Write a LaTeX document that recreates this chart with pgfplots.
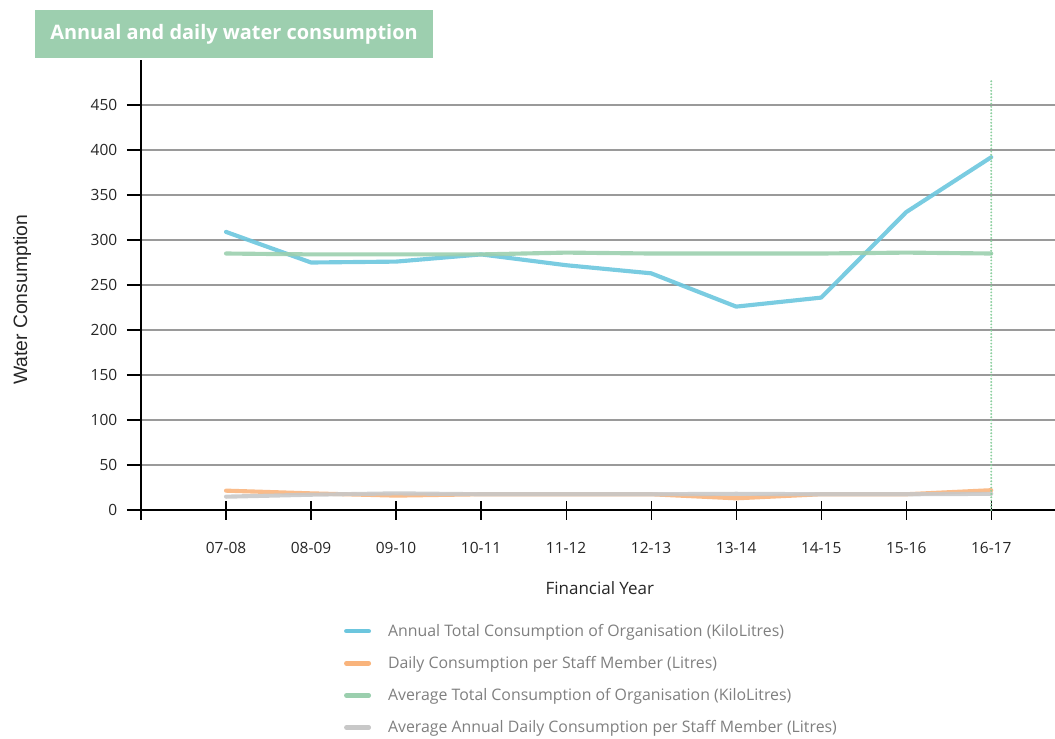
\documentclass[border=0pt]{standalone}
\usepackage{pgfplots}
\pgfplotsset{compat=1.18}
\usepackage{fontspec}
\setmainfont{Open Sans}
\newfontfamily\arialfont{Liberation Sans}
\definecolor{cblue}{HTML}{6CC6DE}
\definecolor{corange}{HTML}{F9B47C}
\definecolor{cgreen}{HTML}{9BCFAE}
\definecolor{cgray}{HTML}{C8C8C8}
\definecolor{titlegreen}{HTML}{9DCFAF}
\definecolor{legtext}{HTML}{7F7F7F}
\definecolor{gridgray}{HTML}{9A9A9A}
\definecolor{dotgreen}{HTML}{8CCF9F}
\begin{document}
\begin{tikzpicture}
\useasboundingbox (0,0) rectangle (791.25pt,-553.5pt);
\fill[titlegreen] (26.25pt,-7.5pt) rectangle (324.75pt,-43.5pt);
\node[text=white, font=\bfseries\fontsize{14.95}{18}\selectfont, anchor=center, inner sep=0pt] at (175.5pt,-26pt) {Annual and daily water consumption};
\begin{axis}[
  at={(105.75pt,-382.5pt)}, anchor=south west,
  scale only axis, width=685.5pt, height=337.5pt,
  xmin=-1, xmax=9.75, ymin=0, ymax=500,
  axis lines=left,
  axis line style={-, black, line width=0.9pt},
  xtick={-1,0,...,9},
  xticklabels={,07-08,08-09,09-10,10-11,11-12,12-13,13-14,14-15,15-16,16-17},
  ytick={0,50,...,450},
  xtick align=center, ytick align=outside,
  xtick style={black, line width=0.9pt, /pgfplots/major tick length=14.25pt},
  ytick style={black, line width=0.9pt, /pgfplots/major tick length=10.5pt},
  ymajorgrids, grid style={gridgray, line width=0.8pt},
  tick label style={font=\fontsize{11.6}{14}\selectfont, text=black!85},
  /pgf/number format/assume math mode=true,
  xticklabel shift=18.5pt,
  yticklabel shift=10pt,
  xlabel={Financial Year},
  every axis x label/.style={at={(axis description cs:0.502,-0.173)}, anchor=center, font=\fontsize{12.75}{15}\selectfont, text=black!85},
  ylabel={Water Consumption},
  every axis y label/.style={at={(axis description cs:-0.130,0.467)}, anchor=center, rotate=90, font=\arialfont\fontsize{14.5}{17}\selectfont, text=black!85},
  legend style={at={(axis description cs:0.2175,-0.241)}, anchor=north west, draw=none, fill=none,
    font=\fontsize{11.9}{14}\selectfont, text=legtext, row sep=9.5pt,
    nodes={inner xsep=0pt}},
  legend cell align=left,
  legend image code/.code={\draw[#1, line width=3.4pt, line cap=round, opacity=1] (1.7pt,0pt) -- (18.55pt,0pt); \path[draw=none, fill=none] (0pt,0pt) -- (33pt,0pt);},
  every axis plot/.append style={line width=3.1pt, line cap=round, line join=round, opacity=0.9},
]
\addplot[cblue] coordinates {(0,309) (1,275) (2,276) (3,284) (4,272) (5,263) (6,226) (7,236) (8,331) (9,392)};
\addlegendentry{Annual Total Consumption of Organisation (KiloLitres)}
\addplot[corange] coordinates {(0,21.5) (1,18.5) (2,16) (3,17.5) (4,17.5) (5,17.5) (6,13) (7,17.5) (8,17.5) (9,22)};
\addlegendentry{Daily Consumption per Staff Member (Litres)}
\addplot[cgreen] coordinates {(0,285) (1,284) (2,284) (3,284) (4,286) (5,285) (6,285) (7,285) (8,286) (9,285)};
\addlegendentry{Average Total Consumption of Organisation (KiloLitres)}
\addplot[cgray] coordinates {(0,14.8) (1,17) (2,18.5) (3,17.5) (4,17.5) (5,17.5) (6,18) (7,17.5) (8,17.5) (9,18)};
\addlegendentry{Average Annual Daily Consumption per Staff Member (Litres)}
\addplot[dotgreen, line width=1.6pt, line cap=round, dash pattern={on 0pt off 2.4pt}, opacity=1, forget plot] coordinates {(9,0) (9,480)};
\end{axis}
\end{tikzpicture}
\end{document}
